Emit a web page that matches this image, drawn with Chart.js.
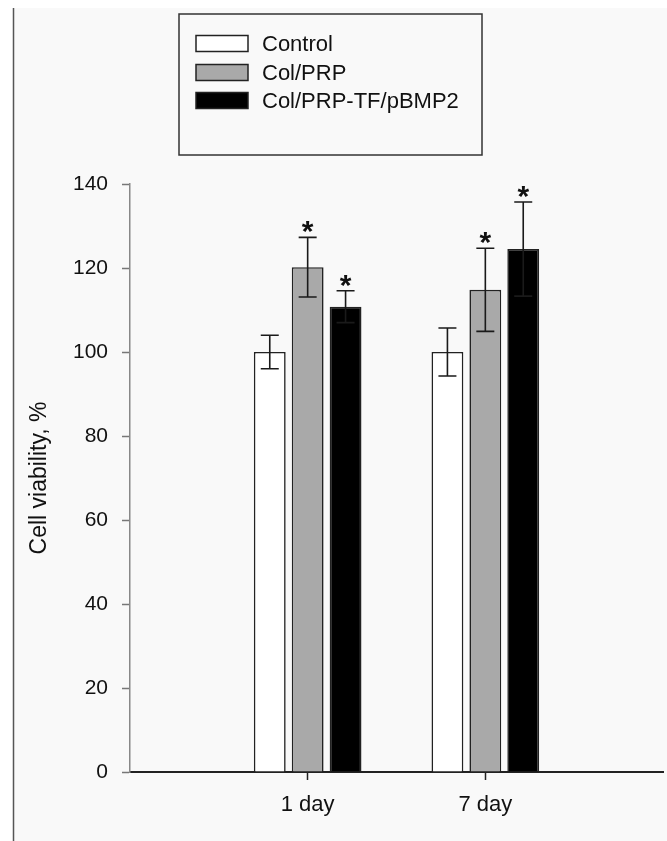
<!DOCTYPE html>
<html>
<head>
<meta charset="utf-8">
<script src="https://cdn.jsdelivr.net/npm/chart.js@4/dist/chart.umd.min.js"></script>
<style>
html,body{margin:0;padding:0;background:#ffffff;}
#wrap{width:667px;height:841px;position:relative;}
</style>
</head>
<body>
<div id="wrap"><canvas id="c" width="667" height="841"></canvas></div>
<script>
// ---- data ----
const categories = ['', '1 day', '7 day', ''];
const seriesNames = ['Control', 'Col/PRP', 'Col/PRP-TF/pBMP2'];
const controlValues = [null, 100, 100, null];
const colPrpValues = [null, 120.2, 114.8, null];
const colPrpTfValues = [null, 110.8, 124.5, null];
const controlErrors = [null, 4.0, 5.7, null];
const colPrpErrors = [null, 7.1, 9.9, null];
const colPrpTfErrors = [null, 3.8, 11.2, null];
const controlStars = [false, false, false, false];
const colPrpStars = [false, true, true, false];
const colPrpTfStars = [false, true, true, false];
const yTicks = [0, 20, 40, 60, 80, 100, 120, 140];
const yTitle = 'Cell viability, %';

const FONT = 'Arial, "Liberation Sans", sans-serif';
const fills = ['#ffffff', '#a9a9a9', '#000000'];
const errorSets = [controlErrors, colPrpErrors, colPrpTfErrors];
const starSets = [controlStars, colPrpStars, colPrpTfStars];

const backgroundPlugin = {
  id: 'bg',
  beforeDraw(chart) {
    const ctx = chart.ctx;
    ctx.save();
    ctx.fillStyle = '#f9f9f9';
    ctx.fillRect(13, 8, chart.width - 13, chart.height - 8);
    ctx.strokeStyle = '#555555';
    ctx.lineWidth = 1.5;
    ctx.beginPath();
    ctx.moveTo(13.5, 8);
    ctx.lineTo(13.5, chart.height);
    ctx.stroke();
    ctx.restore();
  }
};

const errorPlugin = {
  id: 'errs',
  afterDatasetsDraw(chart) {
    const ctx = chart.ctx;
    const y = chart.scales.y;
    ctx.save();
    chart.data.datasets.forEach((ds, di) => {
      const meta = chart.getDatasetMeta(di);
      meta.data.forEach((bar, i) => {
        const v = ds.data[i];
        const e = errorSets[di][i];
        if (v == null || e == null) return;
        const x = bar.x;
        const yTop = y.getPixelForValue(v + e);
        const yBot = y.getPixelForValue(v - e);
        ctx.strokeStyle = '#1a1a1a';
        ctx.lineWidth = 1.6;
        ctx.beginPath();
        ctx.moveTo(x, yTop); ctx.lineTo(x, yBot);
        ctx.moveTo(x - 9, yTop); ctx.lineTo(x + 9, yTop);
        ctx.moveTo(x - 9, yBot); ctx.lineTo(x + 9, yBot);
        ctx.stroke();
        if (starSets[di][i]) {
          ctx.fillStyle = '#111111';
          ctx.font = 'bold 30px ' + FONT;
          ctx.textAlign = 'center';
          ctx.textBaseline = 'alphabetic';
          ctx.fillText('*', x, yTop + 4);
        }
      });
    });
    ctx.restore();
  }
};

const legendPlugin = {
  id: 'boxLegend',
  afterDraw(chart) {
    const ctx = chart.ctx;
    ctx.save();
    ctx.fillStyle = '#f9f9f9';
    ctx.fillRect(179, 14, 303, 141);
    ctx.strokeStyle = '#333333';
    ctx.lineWidth = 1.5;
    ctx.strokeRect(179, 14, 303, 141);
    const rows = [43.5, 72.5, 100.5];
    chart.data.datasets.forEach((ds, i) => {
      const cy = rows[i];
      ctx.fillStyle = ds.backgroundColor;
      ctx.fillRect(196, cy - 8, 52, 16);
      ctx.strokeStyle = '#222222';
      ctx.lineWidth = 1.5;
      ctx.strokeRect(196, cy - 8, 52, 16);
      ctx.fillStyle = '#111111';
      ctx.font = '22px ' + FONT;
      ctx.textAlign = 'left';
      ctx.textBaseline = 'middle';
      ctx.fillText(ds.label, 262, cy + 1);
    });
    ctx.restore();
  }
};

const datasets = [controlValues, colPrpValues, colPrpTfValues].map((vals, i) => ({
  label: seriesNames[i],
  data: vals,
  backgroundColor: fills[i],
  borderColor: '#222222',
  borderWidth: 1.6,
  borderSkipped: 'bottom',
  categoryPercentage: 0.64,
  barPercentage: 0.84
}));

new Chart(document.getElementById('c'), {
  type: 'bar',
  data: { labels: categories, datasets },
  options: {
    responsive: false,
    animation: false,
    layout: { padding: { top: 184, left: 22, right: 4, bottom: 0 } },
    plugins: { legend: { display: false }, tooltip: { enabled: false } },
    scales: {
      x: {
        offset: false,
        grid: {
          offset: false,
          drawOnChartArea: false,
          drawTicks: true,
          tickLength: 8,
          tickWidth: 1.5,
          tickColor: (c) => (c.tick && c.tick.label) ? '#222222' : 'rgba(0,0,0,0)'
        },
        border: { display: true, color: '#222222', width: 2 },
        ticks: { color: '#111111', font: { family: FONT, size: 22 }, padding: 12, maxRotation: 0, autoSkip: false },
        afterFit(s) { s.height = 69; s.paddingLeft = 0; s.paddingRight = 0; }
      },
      y: {
        min: 0,
        max: 140,
        afterBuildTicks(s) { s.ticks = yTicks.map(v => ({ value: v })); },
        grid: { drawOnChartArea: false, drawTicks: true, tickLength: 8, tickWidth: 1.5, tickColor: '#777777' },
        border: { display: true, color: '#888888', width: 1.5 },
        ticks: { color: '#111111', font: { family: FONT, size: 21 }, padding: 14 },
        title: { display: true, text: yTitle, color: '#111111', font: { family: FONT, size: 23 }, padding: { top: 4, bottom: 4 } },
        afterFit(s) { s.width = 108; }
      }
    }
  },
  plugins: [backgroundPlugin, errorPlugin, legendPlugin]
});
</script>
</body>
</html>
